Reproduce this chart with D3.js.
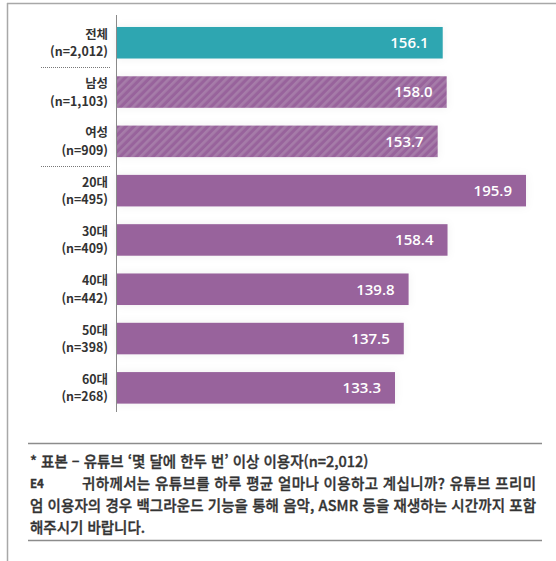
<!DOCTYPE html>
<html lang="ko">
<head>
<meta charset="utf-8">
<script src="https://cdn.jsdelivr.net/npm/d3@7"></script>
<style>
  html, body { margin: 0; padding: 0; background: #fff; }
  svg { display: block; font-family: "Noto Sans CJK KR", "Noto Sans", sans-serif; }
</style>
</head>
<body>
<svg id="chart" width="556" height="561"></svg>
<script>
// Average daily YouTube viewing time (minutes) by respondent group
const groups = ["전체", "남성", "여성", "20대", "30대", "40대", "50대", "60대"];
const sampleSizes = ["(n=2,012)", "(n=1,103)", "(n=909)", "(n=495)", "(n=409)", "(n=442)", "(n=398)", "(n=268)"];
const minutes = [156.1, 158.0, 153.7, 195.9, 158.4, 139.8, 137.5, 133.3];
const groupKind = ["total", "gender", "gender", "age", "age", "age", "age", "age"];

const noteLines = [
  "* 표본 – 유튜브 ‘몇 달에 한두 번’ 이상 이용자(n=2,012)",
  "귀하께서는 유튜브를 하루 평균 얼마나 이용하고 계십니까? 유튜브 프리미",
  "엄 이용자의 경우 백그라운드 기능을 통해 음악, ASMR 등을 재생하는 시간까지 포함",
  "해주시기 바랍니다."
];

const rows = groups.map((g, i) => ({ group: g, n: sampleSizes[i], value: minutes[i], kind: groupKind[i] }));

const svg = d3.select("#chart");
const defs = svg.append("defs");

// diagonal stripes for the gender bars
const pat = defs.append("pattern")
  .attr("id", "stripes")
  .attr("patternUnits", "userSpaceOnUse")
  .attr("width", 5.8).attr("height", 5.8)
  .attr("patternTransform", "rotate(45)");
pat.append("rect").attr("width", 5.8).attr("height", 5.8).attr("fill", "#98649c");
pat.append("rect").attr("width", 2.6).attr("height", 5.8).attr("fill", "#a67ca9");

// soft halo around the bars
const glow = defs.append("filter").attr("id", "halo")
  .attr("x", "-5%").attr("y", "-40%").attr("width", "110%").attr("height", "180%");
glow.append("feGaussianBlur").attr("in", "SourceAlpha").attr("stdDeviation", 4).attr("result", "b");
glow.append("feFlood").attr("flood-color", "#000").attr("flood-opacity", 0.06);
glow.append("feComposite").attr("in2", "b").attr("operator", "in").attr("result", "s");
const mrg = glow.append("feMerge");
mrg.append("feMergeNode").attr("in", "s");
mrg.append("feMergeNode").attr("in", "SourceGraphic");

// page frame
svg.append("line").attr("x1", 7).attr("x2", 556).attr("y1", 3.5).attr("y2", 3.5)
  .attr("stroke", "#a8a8a8").attr("stroke-width", 1.5);
svg.append("line").attr("x1", 7.5).attr("x2", 7.5).attr("y1", 3).attr("y2", 561)
  .attr("stroke", "#a8a8a8").attr("stroke-width", 1.5);

const x = d3.scaleLinear().domain([0, 200]).range([116, 534.6]);
const y = d3.scaleBand().domain(groups).range([18.1, 412.5]).paddingInner(0.36).paddingOuter(0.18);

const fillFor = d => d.kind === "total" ? "#2fa6b1" : d.kind === "gender" ? "url(#stripes)" : "#98649c";

svg.append("g").selectAll("rect")
  .data(rows).join("rect")
  .attr("x", x(0))
  .attr("y", d => y(d.group))
  .attr("width", d => x(d.value) - x(0))
  .attr("height", y.bandwidth())
  .attr("fill", fillFor)
  .attr("filter", "url(#halo)");

// value labels inside the bars
svg.append("g").selectAll("text")
  .data(rows).join("text")
  .attr("x", d => x(d.value) - 14)
  .attr("y", d => y(d.group) + y.bandwidth() / 2)
  .attr("dy", "0.36em")
  .attr("text-anchor", "end")
  .attr("fill", "#fff")
  .attr("font-size", 15)
  .attr("font-weight", 600)
  .style("font-family", "'Open Sans', 'Noto Sans', sans-serif")
  .text(d => d.value.toFixed(1));

// vertical category axis line
svg.append("line")
  .attr("x1", 116.5).attr("x2", 116.5).attr("y1", 15).attr("y2", 412)
  .attr("stroke", "#8a8a8a").attr("stroke-width", 1);

// category labels, two lines each
const lab = svg.append("g").selectAll("g")
  .data(rows).join("g")
  .attr("transform", d => `translate(108,${y(d.group) + y.bandwidth() / 2})`);
lab.append("text").attr("y", -8.5).attr("dy", "0.36em").attr("text-anchor", "end")
  .attr("font-size", 12.4).attr("font-weight", 700).attr("fill", "#333")
  .text(d => d.group);
lab.append("text").attr("y", 9).attr("dy", "0.36em").attr("text-anchor", "end")
  .attr("font-size", 12.4).attr("font-weight", 700).attr("fill", "#333")
  .text(d => d.n);

// dotted separators between total / gender / age blocks
[["전체", "남성"], ["여성", "20대"]].forEach(([a, b]) => {
  const yy = Math.round((y(a) + y.bandwidth() + y(b)) / 2) + 0.5;
  svg.append("line").attr("x1", 41).attr("x2", 110).attr("y1", yy).attr("y2", yy)
    .attr("stroke", "#777").attr("stroke-width", 1).attr("stroke-dasharray", "1,1");
});

// footnote block
svg.append("line").attr("x1", 28).attr("x2", 542).attr("y1", 443.5).attr("y2", 443.5)
  .attr("stroke", "#8c8c8c").attr("stroke-width", 1.5);
svg.append("line").attr("x1", 28).attr("x2", 542).attr("y1", 540.5).attr("y2", 540.5)
  .attr("stroke", "#8c8c8c").attr("stroke-width", 1.5);

const note = svg.append("g").attr("fill", "#333").attr("font-size", 14.5).attr("font-weight", 500)
  .attr("stroke", "#333").attr("stroke-width", 0.35);
note.append("text").attr("x", 30).attr("y", 467).text(noteLines[0]);
note.append("text").attr("x", 30).attr("y", 488).attr("font-size", 11.5).attr("font-weight", 700).text("E4");
note.append("text").attr("x", 82).attr("y", 489)
  .attr("textLength", 454).attr("lengthAdjust", "spacing").text(noteLines[1]);
note.append("text").attr("x", 30).attr("y", 511)
  .attr("textLength", 506).attr("lengthAdjust", "spacing").text(noteLines[2]);
note.append("text").attr("x", 30).attr("y", 533).text(noteLines[3]);
</script>
</body>
</html>
